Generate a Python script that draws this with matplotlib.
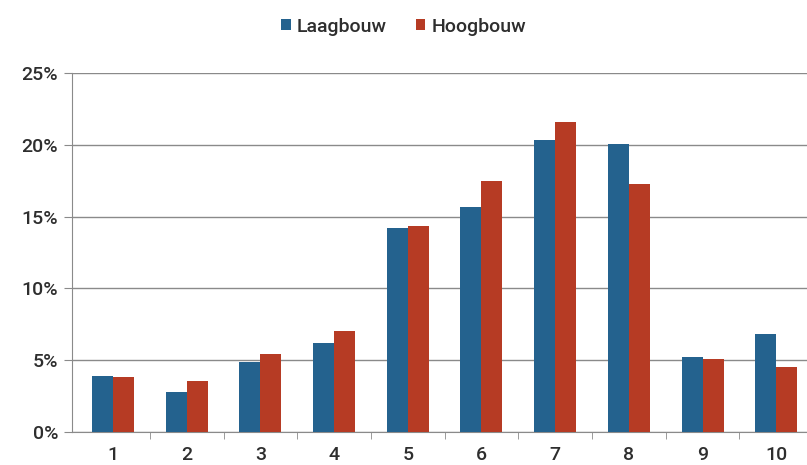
import numpy as np
import matplotlib.pyplot as plt
from matplotlib.ticker import FuncFormatter

plt.rcParams['font.family'] = ['Roboto', 'DejaVu Sans']
plt.rcParams['font.weight'] = 'medium'

#data
categories = ['1', '2', '3', '4', '5', '6', '7', '8', '9', '10']
laagbouw = [3.9, 2.8, 4.9, 6.2, 14.2, 15.7, 20.3, 20.05, 5.2, 6.8]
hoogbouw = [3.85, 3.55, 5.4, 7.0, 14.35, 17.5, 21.6, 17.3, 5.1, 4.5]

blue = '#24628e'
red = '#b63b24'
grey = '#8a8a8a'

fig = plt.figure(figsize=(8.07, 4.65), dpi=100)
ax = fig.add_axes([72/807, 33/465, 735/807, 359/465])

x = np.arange(1, len(categories) + 1)
w = 0.285
ax.bar(x - w/2, laagbouw, w, color=blue, label='Laagbouw', zorder=3)
ax.bar(x + w/2, hoogbouw, w, color=red, label='Hoogbouw', zorder=3)

ax.set_ylim(0, 25)
ax.set_yticks([0, 5, 10, 15, 20, 25])
ax.yaxis.set_major_formatter(FuncFormatter(lambda v, p: '%d%%' % v))
ax.grid(axis='y', color=grey, linewidth=1, zorder=0)
ax.set_xlim(0.444, 10.417)

ax.set_xticks(x)
ax.set_xticklabels(categories)
ax.set_xticks(np.arange(1.5, 10, 1), minor=True)
ax.tick_params(axis='x', which='major', length=0, pad=10, labelsize=14, labelcolor='#2e2e2e')
ax.tick_params(axis='x', which='minor', length=5, color=grey, direction='out')
ax.tick_params(axis='y', length=6, color=grey, pad=4, labelsize=14, labelcolor='#2e2e2e')

for s in ['top', 'right']:
    ax.spines[s].set_visible(False)
ax.spines['left'].set_color(grey)
ax.spines['bottom'].set_color(grey)

fig.legend(loc='upper center', bbox_to_anchor=(0.5, 1.0), ncol=2, frameon=False,
           fontsize=14, handlelength=0.5, handleheight=0.5, handletextpad=0.3,
           columnspacing=1.5, labelcolor='#2e2e2e')

fig.savefig('out.png', dpi=100)
